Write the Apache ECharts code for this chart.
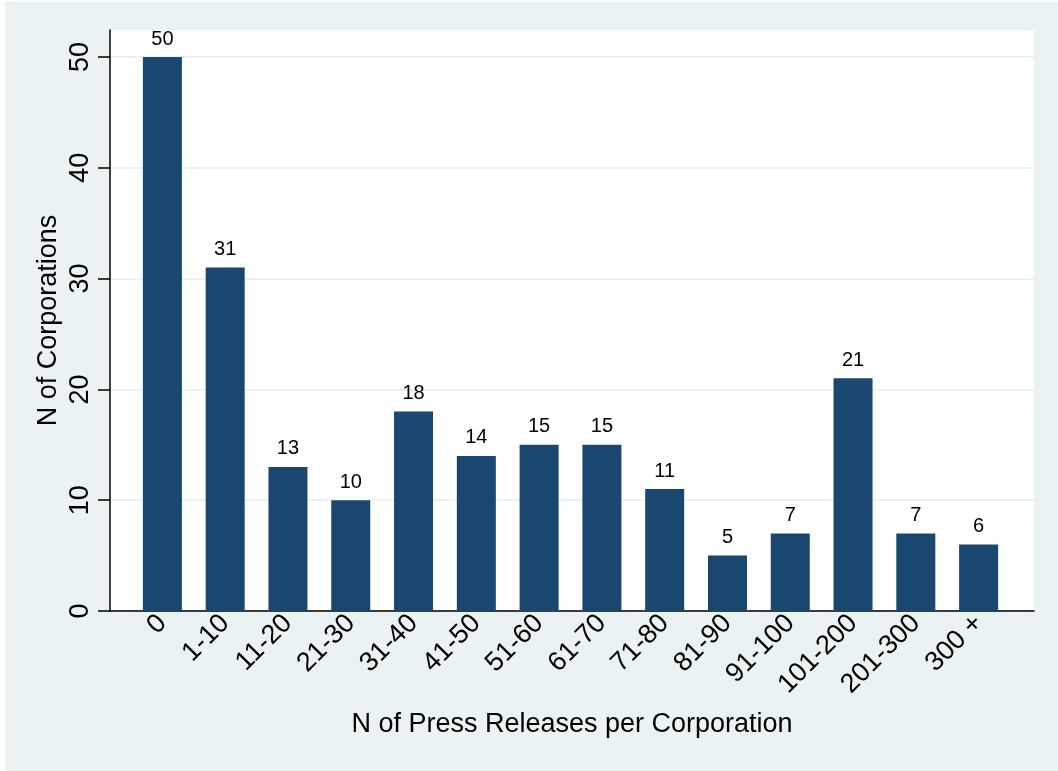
<!DOCTYPE html>
<html>
<head>
<meta charset="utf-8">
<script src="https://cdn.jsdelivr.net/npm/echarts@6/dist/echarts.min.js"></script>
<style>
  html, body { margin: 0; padding: 0; background: #ffffff; }
  #chart { width: 1058px; height: 771px; }
</style>
</head>
<body>
<div id="chart"></div>
<script>
  // data
  var categories = ['0', '1-10', '11-20', '21-30', '31-40', '41-50', '51-60', '61-70', '71-80', '81-90', '91-100', '101-200', '201-300', '300 +'];
  var corporations = [50, 31, 13, 10, 18, 14, 15, 15, 11, 5, 7, 21, 7, 6];
  var yTicks = [0, 10, 20, 30, 40, 50];

  var font = 'Liberation Sans, Arial, sans-serif';
  var bgColor = '#eaf2f3';
  var barColor = '#1a476f';

  var myChart = echarts.init(document.getElementById('chart'));
  myChart.setOption({
    animation: false,
    textStyle: { fontFamily: font },
    graphic: [{
      type: 'rect',
      z: -10,
      shape: { x: 5, y: 2, width: 1053, height: 769 },
      style: { fill: bgColor }
    }],
    grid: [
      // white plot region with the two axis lines
      { left: 110, top: 30, right: 24, bottom: 160, show: true, backgroundColor: '#ffffff', borderWidth: 0 },
      // value axis with ticks and grid lines
      { left: 110, top: 57, right: 24, bottom: 160 },
      // bars, inset from the axis like the original
      { left: 131, top: 57, right: 48, bottom: 160 }
    ],
    xAxis: [{
      gridIndex: 0,
      type: 'value',
      min: 0,
      max: 1,
      name: 'N of Press Releases per Corporation',
      nameLocation: 'middle',
      nameGap: 100,
      nameTextStyle: { fontSize: 27, color: '#000', fontFamily: font },
      axisLine: { show: true, lineStyle: { color: '#000', width: 1.5 } },
      axisTick: { show: false },
      axisLabel: { show: false },
      splitLine: { show: false }
    }, {
      gridIndex: 1,
      type: 'value',
      show: false
    }, {
      gridIndex: 2,
      type: 'category',
      data: categories,
      axisLine: { show: false },
      axisTick: { show: false },
      axisLabel: {
        rotate: 45,
        interval: 0,
        margin: 8,
        fontSize: 27,
        color: '#000',
        fontFamily: font
      },
      splitLine: { show: false }
    }],
    yAxis: [{
      gridIndex: 0,
      type: 'value',
      min: 0,
      max: 1,
      name: 'N of Corporations',
      nameLocation: 'middle',
      nameRotate: 90,
      nameGap: 48,
      nameTextStyle: { fontSize: 27, color: '#000', fontFamily: font },
      axisLine: { show: true, lineStyle: { color: '#000', width: 1.5 } },
      axisTick: { show: false },
      axisLabel: { show: false },
      splitLine: { show: false }
    }, {
      gridIndex: 1,
      type: 'value',
      min: yTicks[0],
      max: yTicks[yTicks.length - 1],
      interval: yTicks[1] - yTicks[0],
      axisLine: { show: false },
      axisTick: { show: true, length: 12, lineStyle: { color: '#000', width: 1.5 } },
      axisLabel: {
        rotate: 90,
        margin: 16,
        fontSize: 27,
        color: '#000',
        fontFamily: font
      },
      splitLine: { show: true, lineStyle: { color: bgColor, width: 2 } }
    }, {
      gridIndex: 2,
      type: 'value',
      min: yTicks[0],
      max: yTicks[yTicks.length - 1],
      show: false
    }],
    series: [{
      name: 'N of Corporations',
      type: 'bar',
      xAxisIndex: 2,
      yAxisIndex: 2,
      data: corporations,
      barWidth: 39,
      itemStyle: { color: barColor },
      label: {
        show: true,
        position: 'top',
        distance: 8,
        fontSize: 20,
        color: '#000',
        fontFamily: font
      }
    }]
  });
</script>
</body>
</html>
